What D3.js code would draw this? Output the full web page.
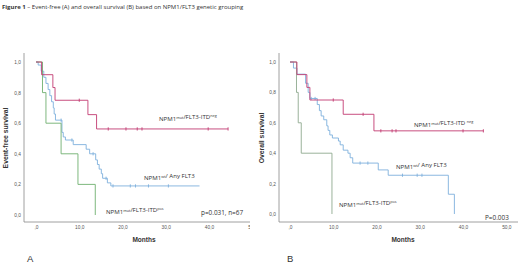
<!DOCTYPE html>
<html><head><meta charset="utf-8">
<script src="https://cdn.jsdelivr.net/npm/d3@7"></script>
<style>body{margin:0;background:#fff}svg{display:block}</style>
</head><body>
<svg id="c" width="520" height="263"></svg>
<script>
// ---- data ----
const monthTicks = [0, 10, 20, 30, 40, 50];
const survTicks = [0, 0.2, 0.4, 0.6, 0.8, 1.0];

// Panel A: event-free survival
const redA_t = [0, 1.3, 3.9, 4.4, 12, 14, 44.4];
const redA_s = [1, 0.917, 0.833, 0.75, 0.656, 0.5625, 0.5625];
const redA_c = [10, 16.7, 20.8, 23.4, 24.5, 39.8, 44.4];
const greenA_t = [0, 1.5, 2.3, 5.8, 9.7, 13.7];
const greenA_s = [1, 0.8, 0.6, 0.4, 0.2, 0];
const greenA_c = [];
const blueA_t = [0, 0.5, 1.2, 1.8, 2.3, 2.8, 3.2, 3.6, 4.0, 4.2, 4.5, 6.0, 6.3, 6.8, 8.6, 11.6, 12.4, 13.8, 14.2, 14.6, 15.1, 15.4, 16.5, 17.3, 37.8];
const blueA_s = [1, 0.98, 0.94, 0.90, 0.86, 0.82, 0.78, 0.74, 0.70, 0.66, 0.62, 0.54, 0.51, 0.49, 0.46, 0.43, 0.40, 0.36, 0.33, 0.30, 0.27, 0.24, 0.21, 0.19, 0.19];
const blueA_c = [5.8, 8.3, 13.2, 16.2, 17.8, 21.8, 23, 26, 30.6];

// Panel B: overall survival
const redB_t = [0, 1.6, 3.9, 4.6, 12.3, 19.4, 44.7];
const redB_s = [1, 0.917, 0.833, 0.75, 0.656, 0.547, 0.547];
const redB_c = [10, 16.9, 21, 23.6, 24.5, 40, 44.7];
const greenB_t = [0, 1.5, 1.9, 2.6, 9.7];
const greenB_s = [1, 0.8, 0.6, 0.4, 0];
const greenB_c = [];
const blueB_t = [0, 0.8, 1.6, 3.6, 4.2, 4.6, 6.3, 6.8, 7.2, 7.8, 8.5, 8.8, 9.2, 9.8, 11.2, 11.6, 12.3, 13.4, 13.9, 14.5, 20.4, 22.7, 36.6, 38.0];
const blueB_s = [1, 0.96, 0.92, 0.86, 0.80, 0.76, 0.72, 0.68, 0.645, 0.62, 0.58, 0.55, 0.52, 0.50, 0.48, 0.455, 0.42, 0.40, 0.37, 0.335, 0.29, 0.255, 0.13, 0];
const blueB_c = [4.9, 5.8, 16.2, 18, 26, 29.4, 30.5];

const RED = "#c23b72", BLUE = "#7eb0dc", GREENA = "#6fb06f", GREENB = "#8fa98f";
const svg = d3.select("#c");
const FONT = "Liberation Sans, Arial, sans-serif";

svg.append("text").attr("x", 2).attr("y", 9).attr("font-family", "Open Sans, sans-serif")
  .attr("font-size", 6.0).attr("fill", "#333")
  .call(t => { t.append("tspan").attr("font-weight", "bold").text("Figure 1");
               t.append("tspan").text(" \u2013 Event-free (A) and overall survival (B) based on NPM1/FLT3 genetic grouping"); });

const fmt = d => d === 0 ? ",0" : d3.format(".1f")(d).replace(".", ",");
const fmtY = d => d3.format(".1f")(d).replace(".", ",");

function panel(cfg) {
  const g = svg.append("g");
  const clipId = "clip" + cfg.id;
  svg.append("clipPath").attr("id", clipId).append("rect")
    .attr("x", cfg.clip[0]).attr("y", 0).attr("width", cfg.clip[1] - cfg.clip[0]).attr("height", 263);
  g.attr("clip-path", `url(#${clipId})`);
  const x = d3.scaleLinear().domain([0, 50]).range(cfg.xr);
  const y = d3.scaleLinear().domain([0, 1]).range(cfg.yr);
  g.append("line").attr("x1", cfg.ax).attr("x2", cfg.ax).attr("y1", 53).attr("y2", cfg.ay).attr("stroke", "#888").attr("stroke-width", 0.8);
  g.append("line").attr("x1", cfg.ax).attr("x2", cfg.axEnd).attr("y1", cfg.ay).attr("y2", cfg.ay).attr("stroke", "#888").attr("stroke-width", 0.8);
  const ya = g.append("g").attr("transform", `translate(${cfg.ax},0)`)
    .call(d3.axisLeft(y).tickValues(survTicks).tickSize(0).tickPadding(3).tickFormat(fmtY));
  const xa = g.append("g").attr("transform", `translate(0,${cfg.ay})`)
    .call(d3.axisBottom(x).tickValues(monthTicks).tickSize(0).tickPadding(4).tickFormat(fmt));
  [ya, xa].forEach(a => { a.select(".domain").remove();
    a.selectAll("text").attr("font-size", 4.8).attr("font-family", FONT).attr("fill", "#555"); });
  g.append("text").attr("x", cfg.monthsX).attr("y", 242).attr("text-anchor", "middle")
    .attr("font-family", FONT).attr("font-weight", "bold").attr("font-size", 6.5).attr("fill", "#333").text("Months");
  g.append("text").attr("transform", `translate(${cfg.ylx},138) rotate(-90)`).attr("text-anchor", "middle")
    .attr("font-family", FONT).attr("font-weight", "bold").attr("font-size", 6.8).attr("fill", "#333").text(cfg.ylab);
  g.append("text").attr("x", cfg.letterX).attr("y", 262).attr("font-family", FONT).attr("font-size", 9.5).attr("fill", "#333").text(cfg.letter);

  const line = d3.line().x(d => x(d[0])).y(d => y(d[1])).curve(d3.curveStepAfter);
  cfg.series.forEach(s => {
    const pts = s.t.map((t, i) => [t, s.s[i]]);
    g.append("path").attr("d", line(pts)).attr("fill", "none").attr("stroke", s.color).attr("stroke-width", 0.9);
    const survAt = t => { let v = 1; s.t.forEach((tt, i) => { if (tt <= t) v = s.s[i]; }); return v; };
    s.c.forEach(c => {
      const cx = x(c), cy = y(survAt(c));
      g.append("line").attr("x1", cx).attr("x2", cx).attr("y1", cy - 1.6).attr("y2", cy + 1.6).attr("stroke", s.color).attr("stroke-width", 0.9);
    });
  });
  cfg.labels.forEach(l => {
    const fs = l.fs || 6.1;
    const t = g.append("text").attr("x", l.x).attr("y", l.y).attr("font-family", "Open Sans, sans-serif")
      .attr("font-size", fs).attr("fill", "#333");
    l.parts.forEach(p => {
      if (p.sup) t.append("tspan").attr("font-size", fs * 0.62).attr("dy", -2.2).text(p.sup)
        .clone().attr("font-size", fs).attr("dy", 2.2).text("");
      else t.append("tspan").text(p.txt);
    });
  });
}

panel({ id: "A", clip: [0, 250], xr: [36, 252.3], yr: [215, 62], ax: 24, ay: 222, axEnd: 253, ylx: 8,
  ylab: "Event-free survival", letter: "A", letterX: 27, monthsX: 144,
  series: [
    { t: blueA_t, s: blueA_s, c: blueA_c, color: BLUE },
    { t: greenA_t, s: greenA_s, c: greenA_c, color: GREENA },
    { t: redA_t, s: redA_s, c: redA_c, color: RED }],
  labels: [
    { x: 159, y: 121, parts: [{ txt: "NPM1" }, { sup: "mut" }, { txt: "/FLT3-ITD" }, { sup: "neg" }] },
    { x: 144, y: 180, parts: [{ txt: "NPM1" }, { sup: "wt" }, { txt: "/ Any FLT3" }] },
    { x: 106, y: 214, parts: [{ txt: "NPM1" }, { sup: "mut" }, { txt: "/FLT3-ITD" }, { sup: "pos" }] },
    { x: 201, y: 215, fs: 6.4, parts: [{ txt: "p=0.031, n=67" }] }]
});
panel({ id: "B", clip: [258, 520], xr: [290, 506.3], yr: [214, 62], ax: 279, ay: 222, axEnd: 518, ylx: 264,
  ylab: "Overall survival", letter: "B", letterX: 287, monthsX: 403,
  series: [
    { t: blueB_t, s: blueB_s, c: blueB_c, color: BLUE },
    { t: greenB_t, s: greenB_s, c: greenB_c, color: GREENB },
    { t: redB_t, s: redB_s, c: redB_c, color: RED }],
  labels: [
    { x: 414, y: 127, parts: [{ txt: "NPM1" }, { sup: "mut" }, { txt: "/FLT3-ITD " }, { sup: "neg" }] },
    { x: 396, y: 169, parts: [{ txt: "NPM1" }, { sup: "wt" }, { txt: "/ Any FLT3" }] },
    { x: 339, y: 207, parts: [{ txt: "NPM1" }, { sup: "mut" }, { txt: "/FLT3-ITD" }, { sup: "pos" }] },
    { x: 485, y: 220, fs: 6.4, parts: [{ txt: "P=0.003" }] }]
});
</script>
</body></html>
